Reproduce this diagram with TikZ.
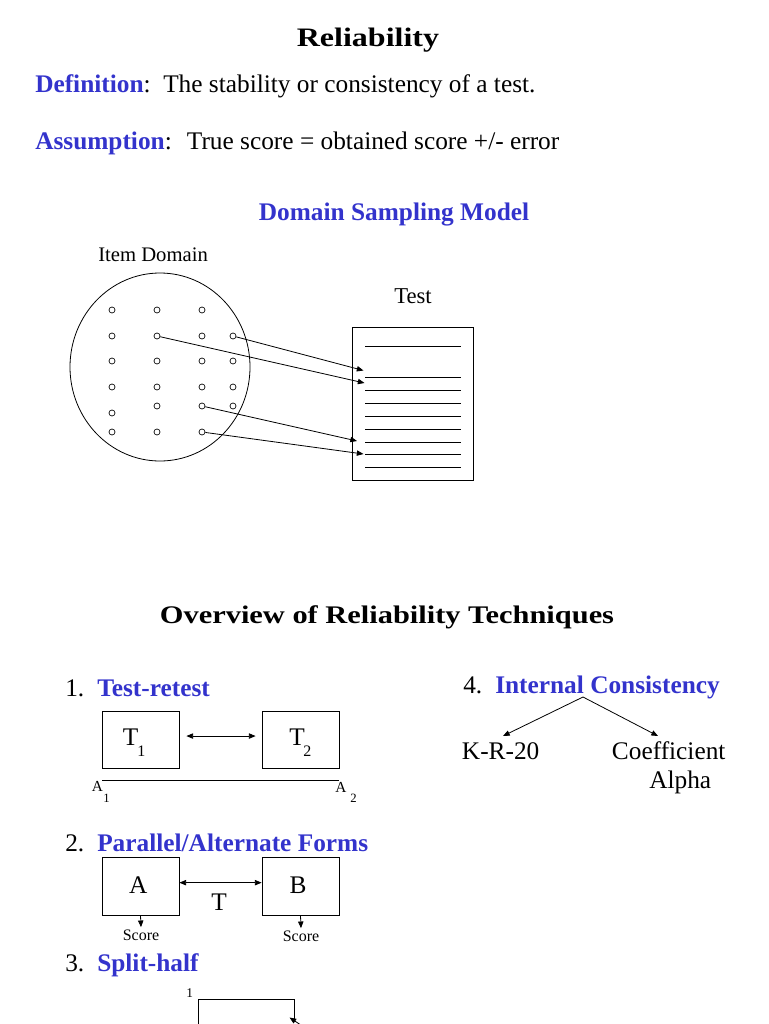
\documentclass[tikz,border=0pt]{standalone}
\usepackage{fontspec}
\setmainfont{Liberation Serif}
\newfontfamily\titlefont[FakeStretch=1.2]{Liberation Serif}
\usetikzlibrary{arrows.meta}
\definecolor{hblue}{RGB}{51,51,204}
\newcommand\fsz[1]{\fontsize{#1}{#1}\selectfont}
\begin{document}
\begin{tikzpicture}[x=0.75pt,y=-0.75pt,
  txt/.style={inner sep=0pt,anchor=base west},
  ctxt/.style={inner sep=0pt,anchor=base},
  ln/.style={line width=0.6pt},
  arr/.style={ln,-{Triangle[length=5pt,width=4pt]}},
  darr/.style={ln,{Triangle[length=5pt,width=4pt]}-{Triangle[length=5pt,width=4pt]}},
  dotn/.style={circle,draw,line width=0.5pt,inner sep=0pt,minimum size=4.5pt},
  tbox/.style={draw,ln,inner sep=0pt,minimum width=57.75pt,minimum height=42.75pt},
  hd/.style={txt,text=hblue,font=\fsz{19}\bfseries},
  body/.style={txt,font=\fsz{19}},
]
\useasboundingbox (0,0) rectangle (768,1024);
\clip (0,0) rectangle (768,1024);

% titles
\node[ctxt] (title) at (368,47) {\titlefont\fsz{20}\bfseries Reliability};
\node[hd] (defL) at (35,92.7) {Definition{\color{black}\mdseries:}};
\node[body] (defR) at (163,92.7) {The stability or consistency of a test.};
\node[hd] (assL) at (35,149.3) {Assumption{\color{black}\mdseries:}};
\node[body] (assR) at (186.7,149.3) {True score = obtained score +/- error};
\node[ctxt,text=hblue,font=\fsz{19}\bfseries] (dsm) at (394,220) {Domain Sampling Model};

% domain
\node[txt,font=\fsz{15.5}] (itemdom) at (98,261.7) {Item Domain};
\node[ctxt,font=\fsz{17}] (testlbl) at (413,303.3) {Test};
\draw[ln] (160,367) ellipse [x radius=90, y radius=94];

\foreach \c/\x in {1/112,2/157,3/202,4/233}{
  \foreach \r/\y in {2/336,3/361,4/387}{
    \node[dotn] (d\r\c) at (\x,\y) {};
  }
}
\foreach \c/\x in {1/112,2/157,3/202}{
  \node[dotn] (d1\c) at (\x,310) {};
  \node[dotn] (d6\c) at (\x,432) {};
}
\node[dotn] (d51) at (112,413) {};
\node[dotn] (d52) at (157,406) {};
\node[dotn] (d53) at (202,406) {};
\node[dotn] (d54) at (233,406) {};

\node[draw,ln,inner sep=0pt,minimum width=90.75pt,minimum height=114.75pt] (testbox) at (412.5,403.5) {};
\foreach \y in {346,377,390,403,416,429,442,454,467}{
  \draw[ln] (365,\y) -- (461,\y);
}
\coordinate (c1) at (363.5,370.5);
\coordinate (c2) at (364.5,383);
\coordinate (c3) at (357,441);
\coordinate (c4) at (363.5,454);
\draw[arr] (d24) -- (c1);
\draw[arr] (d22) -- (c2);
\draw[arr] (d53) -- (c3);
\draw[arr] (d63) -- (c4);

% overview
\node[ctxt] (overview) at (387,623) {\titlefont\fsz{19}\bfseries Overview of Reliability Techniques};

% 1. test-retest
\node[body] (n1) at (65,696.7) {1.};
\node[hd] (h1) at (97,696.7) {Test-retest};
\node[tbox] (t1box) at (140.5,739.5) {};
\node[tbox] (t2box) at (300.5,739.5) {};
\node[txt,font=\fsz{19}] (t1T) at (122.7,745) {T};
\node[txt,font=\fsz{12}] (t1s) at (137,756.7) {1};
\node[txt,font=\fsz{19}] (t2T) at (289,745) {T};
\node[txt,font=\fsz{12}] (t2s) at (303,756.7) {2};
\draw[darr] ([xshift=5.25pt,yshift=2.6pt]t1box.east) -- ([xshift=-4.5pt,yshift=2.6pt]t2box.west);
\coordinate (la) at (102,780);
\coordinate (lb) at (339,780);
\draw[ln] (la) -- (lb);
\node[txt,font=\fsz{11.5}] (a1A) at (91.7,791.7) {A};
\node[txt,font=\fsz{9.5}] (a1s) at (103,802.7) {1};
\node[txt,font=\fsz{11.5}] (a2A) at (335,792.7) {A};
\node[txt,font=\fsz{9.5}] (a2s) at (350,802.7) {2};

% 2. parallel
\node[body] (n2) at (65,851.7) {2.};
\node[hd] (h2) at (97,851.7) {Parallel/Alternate Forms};
\node[tbox,minimum height=43.5pt,font=\fsz{19}] (abox) at (140.5,886) {};
\node[tbox,minimum height=43.5pt,font=\fsz{19}] (bbox) at (300.5,886) {};
\node[ctxt,font=\fsz{19}] (atxt) at (138.3,893) {A};
\node[ctxt,font=\fsz{19}] (btxt) at (298,893) {B};
\draw[darr] ([yshift=2.5pt]abox.east) -- ([yshift=2.5pt]bbox.west);
\node[ctxt,font=\fsz{19}] (ttxt) at (219,910.7) {T};
\node[anchor=base,inner sep=2pt,font=\fsz{12}] (scA) at (141,940.7) {Score};
\node[anchor=base,inner sep=2pt,font=\fsz{12}] (scB) at (301,941.7) {Score};
\draw[arr] (abox.south) -- (scA.north);
\draw[arr] (bbox.south) -- (scB.north);

% 3. split-half
\node[body] (n3) at (65,971.7) {3.};
\node[hd] (h3) at (97,971.7) {Split-half};
\node[txt,font=\fsz{10}] (sh1) at (186,997) {1};
\coordinate (sa) at (198,1030);
\coordinate (sb) at (198,999);
\coordinate (sc) at (294,999);
\coordinate (sd) at (294,1020);
\draw[ln] (sa) -- (sb) -- (sc) -- (sd);
\coordinate (se) at (310,1031);
\coordinate (sf) at (289.5,1017.5);
\draw[arr] (se) -- (sf);

% 4. internal consistency
\node[body] (n4) at (463,693.3) {4.};
\node[hd] (h4) at (495,693.3) {Internal Consistency};
\coordinate (apex) at (583,697);
\node[body] (kr) at (461.7,759.3) {K-R-20};
\node[body] (coef) at (611.7,759.3) {Coefficient};
\node[body] (alpha) at (649,788.3) {Alpha};
\coordinate (krtip) at (503,736);
\coordinate (cotip) at (658,736);
\draw[arr] (apex) -- (krtip);
\draw[arr] (apex) -- (cotip);
\end{tikzpicture}
\end{document}
